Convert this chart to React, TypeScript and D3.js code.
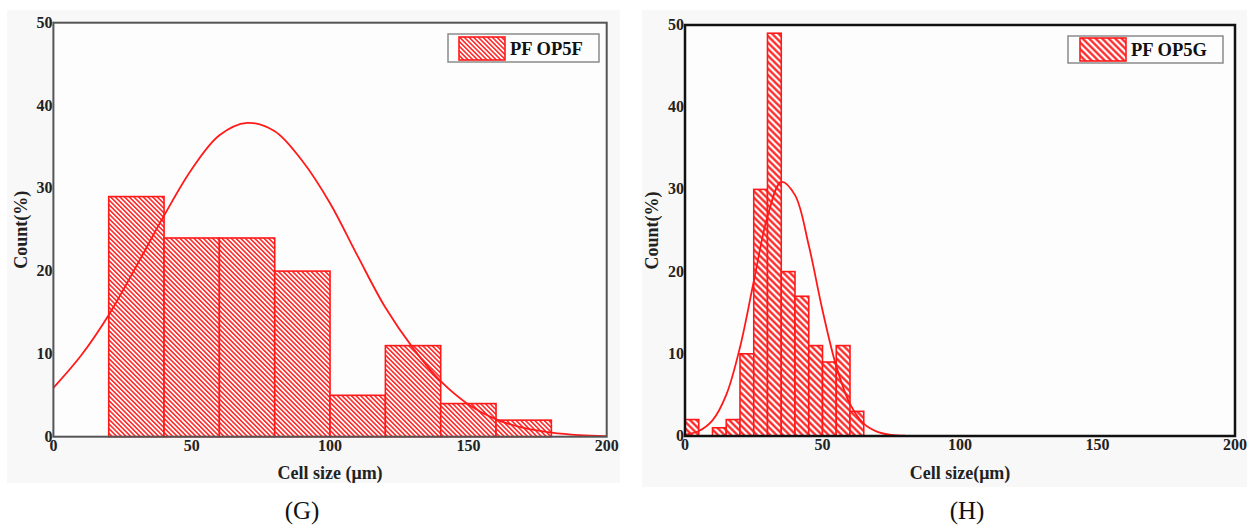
import React from "react";
import * as d3 from "d3";

// ---------- data ----------
const xTicks = [0, 50, 100, 150, 200];
const yTicks = [0, 10, 20, 30, 40, 50];

// (G) PF OP5F
const gBinStarts = [20, 40, 60, 80, 100, 120, 140, 160];
const gBinWidth = 20;
const gCounts = [29, 24, 24, 20, 5, 11, 4, 2];
const gFitX = [0, 10, 20, 30, 40, 50, 60, 70, 80, 90, 100, 110, 120, 130, 140, 150, 160, 170, 180, 190, 200];
const gFitY = [5.9, 9.8, 14.7, 20.6, 26.7, 32.3, 36.4, 37.9, 36.9, 33.3, 28.2, 21.8, 15.6, 10.7, 6.7, 3.9, 2.1, 1.06, 0.5, 0.2, 0.08];

// (H) PF OP5G
const hBinStarts = [0, 5, 10, 15, 20, 25, 30, 35, 40, 45, 50, 55, 60];
const hBinWidth = 5;
const hCounts = [2, 0, 1, 2, 10, 30, 49, 20, 17, 11, 9, 11, 3];
const hFitX = [0, 5, 10, 15, 20, 25, 30, 35, 40, 45, 50, 55, 60, 65, 70, 75, 80];
const hFitY = [0.15, 0.6, 1.9, 5.0, 10.8, 18.8, 26.7, 30.9, 29.3, 23.2, 15.3, 8.5, 3.9, 1.5, 0.5, 0.13, 0.03];

const FONT = '"Liberation Serif", "Times New Roman", serif';
const RED = "#ff1a1a";

type PanelCfg = {
  id: string;
  bg: [number, number, number, number];
  left: number;
  right: number;
  top: number;
  bottom: number;
  frameColor: string;
  frameWidth: number;
  binStarts: number[];
  binWidth: number;
  counts: number[];
  fitX: number[];
  fitY: number[];
  hatch: number;
  hatchStroke: number;
  legendText: string;
  legendBox: [number, number, number, number];
  swatch: [number, number, number, number];
  xTitle: string;
  yTitleX: number;
  caption: string;
  captionX: number;
};

function Panel({ c }: { c: PanelCfg }) {
  const x = d3.scaleLinear().domain([0, 200]).range([c.left, c.right]);
  const y = d3.scaleLinear().domain([0, 50]).range([c.bottom, c.top]);
  const line = d3
    .line<number>()
    .x((_, i) => x(c.fitX[i]))
    .y((d) => y(d))
    .curve(d3.curveCatmullRom.alpha(0.5));
  const pid = "hatch-" + c.id;
  const [lx, ly, lw, lh] = c.legendBox;
  const [sx, sy, sw, sh] = c.swatch;
  return (
    <g>
      <defs>
        <pattern
          id={pid}
          patternUnits="userSpaceOnUse"
          width={c.hatch}
          height={c.hatch}
          patternTransform="rotate(-45)"
        >
          <rect x={0} y={0} width={c.hatch} height={c.hatch} fill="#ffffff" />
          <line x1={c.hatch / 2} y1={0} x2={c.hatch / 2} y2={c.hatch} stroke={RED} strokeWidth={c.hatchStroke} />
        </pattern>
      </defs>
      <rect x={c.bg[0]} y={c.bg[1]} width={c.bg[2]} height={c.bg[3]} fill="#f8f8f8" />
      <rect x={c.left} y={c.top} width={c.right - c.left} height={c.bottom - c.top} fill="#fdfdfd" />
      {c.counts.map((v, i) =>
        v > 0 ? (
          <rect
            key={i}
            x={x(c.binStarts[i])}
            y={y(v)}
            width={x(c.binStarts[i] + c.binWidth) - x(c.binStarts[i])}
            height={y(0) - y(v)}
            fill={`url(#${pid})`}
            stroke={RED}
            strokeWidth={1.6}
          />
        ) : null
      )}
      <path d={line(c.fitY) || ""} fill="none" stroke={RED} strokeWidth={1.8} />
      <rect
        x={c.left}
        y={c.top}
        width={c.right - c.left}
        height={c.bottom - c.top}
        fill="none"
        stroke={c.frameColor}
        strokeWidth={c.frameWidth}
      />
      {yTicks.map((t) => (
        <text
          key={"y" + t}
          x={c.left - 1}
          y={y(t) + 5}
          textAnchor="end"
          fontFamily={FONT}
          fontWeight="bold"
          fontSize={16}
          fill="#222"
        >
          {t}
        </text>
      ))}
      {xTicks.map((t) => (
        <text
          key={"x" + t}
          x={x(t)}
          y={c.bottom + 14}
          textAnchor="middle"
          fontFamily={FONT}
          fontWeight="bold"
          fontSize={16}
          fill="#222"
        >
          {t}
        </text>
      ))}
      <text
        transform={`translate(${c.yTitleX},${(c.top + c.bottom) / 2}) rotate(-90)`}
        textAnchor="middle"
        fontFamily={FONT}
        fontWeight="bold"
        fontSize={18}
        fill="#222"
      >
        Count(%)
      </text>
      <text
        x={(c.left + c.right) / 2}
        y={479}
        textAnchor="middle"
        fontFamily={FONT}
        fontWeight="bold"
        fontSize={18}
        fill="#222"
      >
        {c.xTitle}
      </text>
      <text x={c.captionX} y={519} textAnchor="middle" fontFamily={FONT} fontSize={25} fill="#111">
        {c.caption}
      </text>
      <rect x={lx} y={ly} width={lw} height={lh} fill="#fdfdfd" stroke="#8a8a8a" strokeWidth={1.5} />
      <rect x={sx} y={sy} width={sw} height={sh} fill={`url(#${pid})`} stroke={RED} strokeWidth={1.6} />
      <text x={sx + sw + 5} y={sy + sh - 5} fontFamily={FONT} fontWeight="bold" fontSize={18.5} fill="#111">
        {c.legendText}
      </text>
    </g>
  );
}

const panelG: PanelCfg = {
  id: "g",
  bg: [7, 10, 613, 473],
  left: 53.4,
  right: 606.7,
  top: 22.7,
  bottom: 436.7,
  frameColor: "#555",
  frameWidth: 2,
  binStarts: gBinStarts,
  binWidth: gBinWidth,
  counts: gCounts,
  fitX: gFitX,
  fitY: gFitY,
  hatch: 3.3,
  hatchStroke: 1.5,
  legendText: "PF OP5F",
  legendBox: [448, 34, 151, 28],
  swatch: [459, 37, 46, 23],
  xTitle: "Cell size (\u03bcm)",
  yTitleX: 27,
  caption: "(G)",
  captionX: 302,
};

const panelH: PanelCfg = {
  id: "h",
  bg: [642, 10, 605, 477],
  left: 685,
  right: 1235,
  top: 25,
  bottom: 436,
  frameColor: "#111",
  frameWidth: 2.5,
  binStarts: hBinStarts,
  binWidth: hBinWidth,
  counts: hCounts,
  fitX: hFitX,
  fitY: hFitY,
  hatch: 4.6,
  hatchStroke: 2.2,
  legendText: "PF OP5G",
  legendBox: [1068, 36, 155, 27],
  swatch: [1080, 38, 46, 23],
  xTitle: "Cell size(\u03bcm)",
  yTitleX: 658,
  caption: "(H)",
  captionX: 967,
};

export default function App() {
  return (
    <svg
      width={1247}
      height={525}
      viewBox="0 0 1247 525"
      style={{ position: "absolute", left: 0, top: 0, background: "#ffffff" }}
    >
      <rect x={0} y={0} width={1247} height={525} fill="#ffffff" />
      <Panel c={panelG} />
      <Panel c={panelH} />
    </svg>
  );
}
